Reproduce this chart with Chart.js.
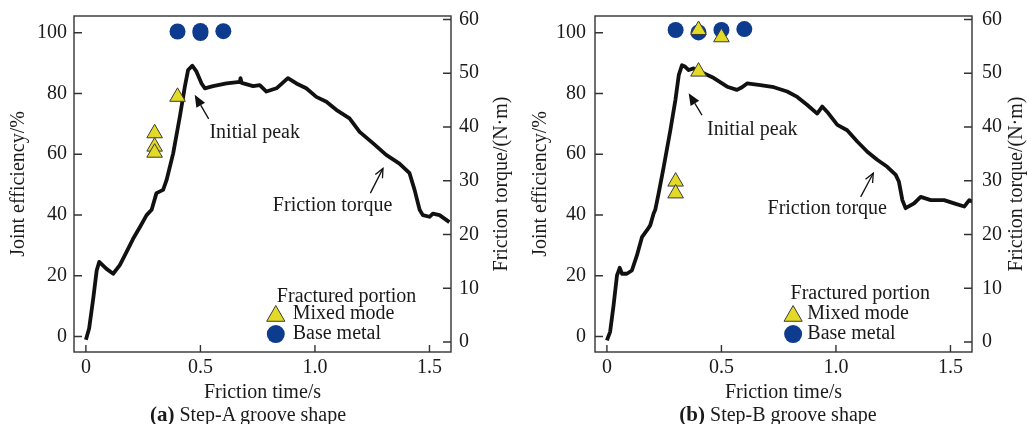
<!DOCTYPE html>
<html>
<head>
<meta charset="utf-8">
<title>Joint efficiency and friction torque</title>
<script src="https://cdn.jsdelivr.net/npm/chart.js@4.4.1/dist/chart.umd.min.js"></script>
<style>
  html, body { margin: 0; padding: 0; background: #fff; }
  .wrap { position: relative; width: 1027px; height: 424px; overflow: hidden; }
  canvas { position: absolute; top: 0; }
  #chartA { left: 0; }
  #chartB { left: 513px; }
  .caption {
    position: absolute; top: 402px; line-height: 24px; white-space: nowrap;
    font-family: "Liberation Serif", "DejaVu Serif", serif; font-size: 20px; color: #1a1a1a;
    transform: translateX(-50%);
  }
  .caption b { font-size: 21px; }
</style>
</head>
<body>
<div class="wrap">
  <canvas id="chartA" width="513" height="424"></canvas>
  <canvas id="chartB" width="514" height="424"></canvas>
  <div class="caption" style="left:248px"><b>(a)</b> Step-A groove shape</div>
  <div class="caption" style="left:778px"><b>(b)</b> Step-B groove shape</div>
</div>
<script>
// tick labels shared by both panels
const timeTicks = [0, 0.5, 1.0, 1.5];
const effTicks = [0, 20, 40, 60, 80, 100];
const torqueTicks = [0, 10, 20, 30, 40, 50, 60];

// (a) Step-A groove: friction torque trace (s, N·m)
const timeA = [0, 0.014, 0.032, 0.047, 0.058, 0.090, 0.119, 0.148, 0.177, 0.206, 0.236, 0.265, 0.287, 0.308,
  0.337, 0.352, 0.381, 0.410, 0.432, 0.446, 0.465, 0.483, 0.505, 0.519, 0.555, 0.614, 0.672, 0.675, 0.680,
  0.730, 0.759, 0.788, 0.832, 0.882, 0.919, 0.962, 1.006, 1.050, 1.093, 1.151, 1.195, 1.253, 1.311, 1.369,
  1.413, 1.435, 1.457, 1.471, 1.500, 1.515, 1.544, 1.587];
const torqueA = [0.4, 2.5, 8.1, 13.3, 14.9, 13.6, 12.7, 14.3, 16.7, 19.2, 21.4, 23.6, 24.6, 27.7,
  28.3, 30.1, 35.1, 41.9, 47.5, 50.6, 51.4, 50.3, 48.1, 47.2, 47.6, 48.1, 48.4, 49.1, 48.2,
  47.6, 47.8, 46.6, 47.2, 49.1, 48.1, 47.2, 45.6, 44.7, 43.2, 41.6, 39.1, 37.0, 34.8, 33.2,
  31.4, 28.3, 24.6, 23.6, 23.3, 23.9, 23.6, 22.3];
// (a) joint efficiency (%) by fractured portion
const mixedTimeA = [0.3, 0.3, 0.3, 0.4];
const mixedEffA = [66.9, 62.5, 60.5, 78.9];
const baseTimeA = [0.4, 0.5, 0.5, 0.6];
const baseEffA = [100.4, 99.9, 100.6, 100.5];

// (b) Step-B groove: friction torque trace (s, N·m)
const timeB = [0, 0.014, 0.029, 0.044, 0.056, 0.066, 0.087, 0.109, 0.131, 0.153, 0.175, 0.189, 0.204, 0.211,
  0.226, 0.248, 0.277, 0.299, 0.314, 0.328, 0.342, 0.357, 0.379, 0.408, 0.467, 0.525, 0.568, 0.590, 0.612,
  0.670, 0.729, 0.787, 0.831, 0.875, 0.918, 0.940, 0.962, 1.006, 1.049, 1.093, 1.137, 1.180, 1.224, 1.261,
  1.275, 1.290, 1.304, 1.341, 1.370, 1.414, 1.472, 1.516, 1.560, 1.582, 1.596];
const torqueB = [0.3, 1.9, 6.8, 12.4, 13.8, 12.7, 12.7, 13.3, 16.1, 19.5, 20.8, 21.7, 23.9, 24.6,
  27.7, 32.6, 39.4, 45.0, 49.7, 51.5, 51.2, 50.6, 50.9, 50.3, 49.1, 47.5, 46.9, 47.4, 48.1,
  47.8, 47.4, 46.6, 45.6, 44.1, 42.5, 43.8, 42.8, 40.4, 39.4, 37.3, 35.4, 33.9, 32.6, 31.1,
  29.8, 26.4, 24.9, 25.8, 27.0, 26.4, 26.4, 25.8, 25.2, 26.4, 26.1];
// (b) joint efficiency (%) by fractured portion
const mixedTimeB = [0.3, 0.3, 0.4, 0.4, 0.5];
const mixedEffB = [51.0, 47.1, 87.2, 100.9, 98.5];
const baseTimeB = [0.3, 0.4, 0.5, 0.6];
const baseEffB = [100.9, 100.1, 100.9, 101.2];

const SERIF = '"Liberation Serif", "DejaVu Serif", serif';
const INK = '#1a1a1a';
const MIXED_FILL = '#e2da26';
const MIXED_EDGE = '#3c3c3c';
const BASE_FILL = '#0d3b8e';

Chart.defaults.font.family = SERIF;
Chart.defaults.font.size = 20;
Chart.defaults.color = INK;

function pairs(xs, ys) {
  return xs.map((x, i) => ({ x: x, y: ys[i] }));
}

function drawArrow(ctx, x1, y1, x2, y2, open) {
  const ang = Math.atan2(y2 - y1, x2 - x1);
  const len = open ? 9 : 12;
  const half = open ? 4 : 5;
  const bx = x2 - Math.cos(ang) * len;
  const by = y2 - Math.sin(ang) * len;
  const lx = bx + Math.sin(ang) * half, ly = by - Math.cos(ang) * half;
  const rx = bx - Math.sin(ang) * half, ry = by + Math.cos(ang) * half;
  ctx.beginPath();
  ctx.moveTo(x1, y1);
  ctx.lineTo(open ? x2 : bx, open ? y2 : by);
  ctx.stroke();
  ctx.beginPath();
  if (open) {
    ctx.moveTo(lx, ly); ctx.lineTo(x2, y2); ctx.lineTo(rx, ry);
    ctx.stroke();
  } else {
    ctx.moveTo(x2, y2); ctx.lineTo(lx, ly); ctx.lineTo(rx, ry); ctx.closePath();
    ctx.fill();
  }
}

function triangle(ctx, x, y, r) {
  ctx.beginPath();
  for (let k = 0; k < 3; k++) {
    const a = k * 2 * Math.PI / 3;
    ctx.lineTo(x + Math.sin(a) * r, y - Math.cos(a) * r);
  }
  ctx.closePath();
  ctx.fillStyle = MIXED_FILL; ctx.fill();
  ctx.strokeStyle = MIXED_EDGE; ctx.lineWidth = 1; ctx.stroke();
}

// frame, inward ticks, right-hand title, notes and the marker legend
const decor = {
  id: 'decor',
  afterDraw(chart, args, o) {
    const { ctx, chartArea: a, scales } = chart;
    const x = scales.x, yL = scales.yL, yR = scales.yR;
    ctx.save();
    ctx.strokeStyle = '#333';
    ctx.lineWidth = 1.4;
    ctx.strokeRect(a.left, a.top, a.right - a.left, a.bottom - a.top);
    ctx.beginPath();
    effTicks.forEach(v => { const p = yL.getPixelForValue(v); ctx.moveTo(a.left, p); ctx.lineTo(a.left + 8, p); });
    torqueTicks.forEach(v => { const p = yR.getPixelForValue(v); ctx.moveTo(a.right, p); ctx.lineTo(a.right - 8, p); });
    timeTicks.forEach(v => { const p = x.getPixelForValue(v); ctx.moveTo(p, a.bottom); ctx.lineTo(p, a.bottom - 7); });
    ctx.stroke();

    ctx.fillStyle = INK;
    ctx.font = '20px ' + SERIF;
    ctx.textBaseline = 'middle';

    ctx.save();
    ctx.translate(a.right + o.rightTitleGap, (a.top + a.bottom) / 2);
    ctx.rotate(-Math.PI / 2);
    ctx.textAlign = 'center';
    ctx.fillText('Friction torque/(N\u00b7m)', 0, 0);
    ctx.restore();

    ctx.strokeStyle = '#111';
    ctx.fillStyle = '#111';
    ctx.lineWidth = 1.3;
    o.notes.forEach(n => {
      drawArrow(ctx, x.getPixelForValue(n.from[0]), yR.getPixelForValue(n.from[1]),
        x.getPixelForValue(n.to[0]), yR.getPixelForValue(n.to[1]), n.open);
      ctx.fillStyle = INK;
      ctx.textAlign = 'center';
      ctx.fillText(n.text, x.getPixelForValue(n.at[0]), yR.getPixelForValue(n.at[1]));
      ctx.fillStyle = '#111';
    });

    const lg = o.legend;
    const mx = x.getPixelForValue(lg.markerX);
    const tx = x.getPixelForValue(lg.textX);
    const r1 = yL.getPixelForValue(lg.rows[0]);
    const r2 = yL.getPixelForValue(lg.rows[1]);
    ctx.fillStyle = INK;
    ctx.textAlign = 'center';
    ctx.fillText('Fractured portion', x.getPixelForValue(lg.title[0]), yL.getPixelForValue(lg.title[1]));
    triangle(ctx, mx, r1 + 2, 10.5);
    ctx.beginPath();
    ctx.arc(mx, r2, 9, 0, Math.PI * 2);
    ctx.fillStyle = BASE_FILL; ctx.fill();
    ctx.fillStyle = INK;
    ctx.textAlign = 'left';
    ctx.fillText('Mixed mode', tx, r1);
    ctx.fillText('Base metal', tx, r2);
    ctx.restore();
  }
};

function fixedWidth(w) {
  return s => { s.width = w; s.paddingTop = 0; s.paddingBottom = 0; };
}

function makeChart(p) {
  return new Chart(document.getElementById(p.canvas), {
    type: 'scatter',
    data: {
      datasets: [
        {
          label: 'Friction torque', data: pairs(p.time, p.torque), yAxisID: 'yR',
          showLine: true, borderColor: '#111', borderWidth: 3.8, pointRadius: 0,
          borderJoinStyle: 'round', tension: 0, order: 3
        },
        {
          label: 'Base metal', data: pairs(p.baseT, p.baseE), yAxisID: 'yL',
          pointStyle: 'circle', pointRadius: 8, backgroundColor: BASE_FILL,
          borderColor: BASE_FILL, borderWidth: 0, order: 2
        },
        {
          label: 'Mixed mode', data: pairs(p.mixedT, p.mixedE), yAxisID: 'yL',
          pointStyle: 'triangle', pointRadius: 9, backgroundColor: MIXED_FILL,
          borderColor: MIXED_EDGE, borderWidth: 1, order: 1
        }
      ]
    },
    options: {
      responsive: false,
      animation: false,
      events: [],
      layout: { padding: { top: 16, left: 0, right: 0, bottom: 0 } },
      scales: {
        x: {
          type: 'linear', position: 'bottom', min: -0.052, max: 1.594,
          grid: { display: false, drawTicks: false }, border: { display: false },
          afterBuildTicks: s => { s.ticks = timeTicks.map(v => ({ value: v })); },
          afterFit: s => { s.height = 72; s.paddingLeft = 0; s.paddingRight = 0; },
          ticks: { padding: 4, maxRotation: 0, autoSkip: false, callback: v => v === 0 ? '0' : v.toFixed(1) },
          title: { display: true, text: 'Friction time/s', padding: { top: 0, bottom: 19 } }
        },
        yL: {
          type: 'linear', position: 'left', min: -5.1, max: 105.5,
          grid: { display: false, drawTicks: false }, border: { display: false },
          afterBuildTicks: s => { s.ticks = effTicks.map(v => ({ value: v })); },
          afterFit: fixedWidth(p.leftWidth),
          ticks: { padding: p.leftPad, autoSkip: false },
          title: { display: true, text: 'Joint efficiency/%', padding: { top: p.leftTitlePad, bottom: 0 } }
        },
        yR: {
          type: 'linear', position: 'right', min: -1.86, max: 60.65,
          grid: { display: false, drawTicks: false }, border: { display: false },
          afterBuildTicks: s => { s.ticks = torqueTicks.map(v => ({ value: v })); },
          afterFit: fixedWidth(p.rightWidth),
          ticks: { padding: p.rightPad, autoSkip: false }
        }
      },
      plugins: {
        legend: { display: false },
        tooltip: { enabled: false },
        decor: { rightTitleGap: p.rightTitleGap, notes: p.notes, legend: p.legend }
      }
    },
    plugins: [decor]
  });
}

makeChart({
  canvas: 'chartA', time: timeA, torque: torqueA,
  mixedT: mixedTimeA, mixedE: mixedEffA, baseT: baseTimeA, baseE: baseEffA,
  leftWidth: 74, rightWidth: 62, leftPad: 7, rightPad: 8, leftTitlePad: 7, rightTitleGap: 51,
  notes: [
    { text: 'Initial peak', at: [0.737, 38.9], from: [0.536, 41.5], to: [0.475, 46.0], open: false },
    { text: 'Friction torque', at: [1.077, 25.3], from: [1.242, 27.7], to: [1.297, 32.3], open: true }
  ],
  legend: { title: [1.138, 13.0], markerX: 0.829, textX: 0.903, rows: [7.4, 0.8] }
});

makeChart({
  canvas: 'chartB', time: timeB, torque: torqueB,
  mixedT: mixedTimeB, mixedE: mixedEffB, baseT: baseTimeB, baseE: baseEffB,
  leftWidth: 82, rightWidth: 55, leftPad: 9, rightPad: 10, leftTitlePad: 16, rightTitleGap: 45,
  notes: [
    { text: 'Initial peak', at: [0.635, 39.4], from: [0.415, 42.2], to: [0.357, 46.3], open: false },
    { text: 'Friction torque', at: [0.962, 24.7], from: [1.108, 27.0], to: [1.163, 31.4], open: true }
  ],
  legend: { title: [1.106, 14.0], markerX: 0.813, textX: 0.875, rows: [7.4, 0.8] }
});
</script>
</body>
</html>
